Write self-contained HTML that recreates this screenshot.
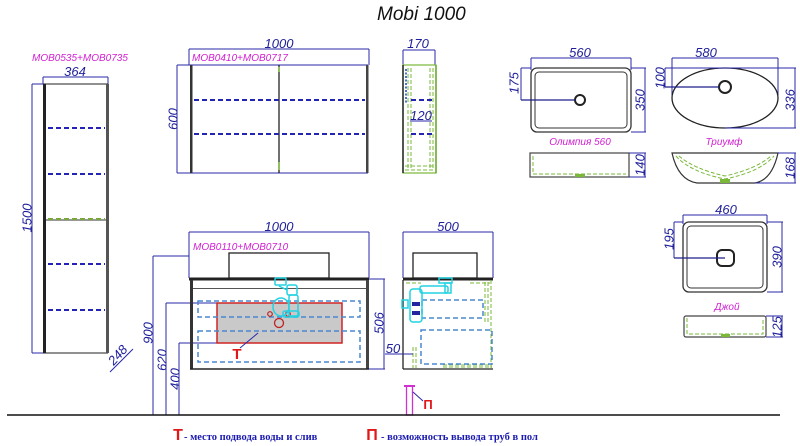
<!DOCTYPE html>
<html><head><meta charset="utf-8">
<style>
html,body{margin:0;padding:0;background:#fff;}
svg{display:block;}
text{font-family:"Liberation Sans","DejaVu Sans",sans-serif;}
.d{font-style:italic;font-size:13px;fill:#1e1e9a;}
.m{font-style:italic;font-size:10px;fill:#d21ed2;}
.dl{stroke:#2a2aa8;stroke-width:1;fill:none;}
.sh{stroke:#2424b4;stroke-width:2;stroke-dasharray:5 3;fill:none;}
.lb{stroke:#4a88d0;stroke-width:1.5;stroke-dasharray:5 3;fill:none;}
.gr{stroke:#7ab83a;stroke-width:1;stroke-dasharray:4 2;fill:none;}
.cy{stroke:#22d2e2;stroke-width:1.5;fill:none;}
.k{stroke:#222;stroke-width:1;fill:none;}
</style></head><body>
<svg width="800" height="446" viewBox="0 0 800 446" xmlns="http://www.w3.org/2000/svg">
<rect width="800" height="446" fill="#fff"/>

<!-- Title -->
<text x="377" y="20" style="font-style:italic;font-size:19px;fill:#111;">Mobi 1000</text>

<!-- ===== Tall cabinet ===== -->
<text x="32" y="61" class="m">MOB0535+MOB0735</text>
<text x="75" y="76" class="d" text-anchor="middle">364</text>
<line x1="43" y1="77" x2="108" y2="77" class="dl"/>
<line x1="43" y1="77" x2="43" y2="84" class="dl"/>
<line x1="108" y1="77" x2="108" y2="84" class="dl"/>
<line x1="32" y1="84" x2="32" y2="353" class="dl"/>
<line x1="32" y1="84" x2="43" y2="84" class="dl"/>
<line x1="32" y1="353" x2="43" y2="353" class="dl"/>
<text transform="translate(27,218) rotate(-90)" x="0" y="4.5" class="d" text-anchor="middle">1500</text>
<line x1="43" y1="84" x2="108" y2="84" class="k"/>
<line x1="43" y1="353" x2="108" y2="353" class="k"/>
<rect x="43" y="84" width="3" height="269" fill="#222"/>
<rect x="106" y="84" width="3" height="269" fill="#555"/>
<line x1="48" y1="128" x2="105" y2="128" class="sh"/>
<line x1="48" y1="174" x2="105" y2="174" class="sh"/>
<line x1="46" y1="220" x2="106" y2="220" stroke="#333" stroke-width="1"/>
<line x1="48" y1="219" x2="105" y2="219" stroke="#78a838" stroke-width="2" stroke-dasharray="5 3"/>
<line x1="48" y1="264" x2="105" y2="264" class="sh"/>
<line x1="48" y1="310" x2="105" y2="310" class="sh"/>
<text transform="translate(121,358) rotate(-48)" x="0" y="0" class="d" text-anchor="middle">248</text>
<line x1="110" y1="372" x2="133" y2="349" class="dl"/>

<!-- ===== Upper mirror cabinet ===== -->
<text x="279" y="48" class="d" text-anchor="middle">1000</text>
<line x1="189" y1="49" x2="369" y2="49" class="dl"/>
<line x1="189" y1="49" x2="189" y2="65" class="dl"/>
<line x1="369" y1="49" x2="369" y2="65" class="dl"/>
<text x="192" y="61" class="m">MOB0410+MOB0717</text>
<line x1="177" y1="65" x2="177" y2="173" class="dl"/>
<line x1="177" y1="65" x2="368" y2="65" class="dl"/>
<line x1="177" y1="173" x2="368" y2="173" class="dl"/>
<text transform="translate(173,119) rotate(-90)" x="0" y="4.5" class="d" text-anchor="middle">600</text>
<rect x="190" y="65" width="2.5" height="108" fill="#333"/>
<rect x="366" y="65" width="2.5" height="108" fill="#444"/>
<line x1="279" y1="65" x2="279" y2="173" stroke="#111" stroke-width="1.2"/>
<line x1="279" y1="67" x2="279" y2="72" stroke="#7ab83a" stroke-width="1.5"/>
<line x1="279" y1="162" x2="279" y2="170" stroke="#7ab83a" stroke-width="1.5"/>
<line x1="194" y1="100" x2="365" y2="100" class="sh"/>
<line x1="194" y1="134" x2="365" y2="134" class="sh"/>

<!-- upper side view -->
<text x="418" y="48" class="d" text-anchor="middle">170</text>
<line x1="403" y1="50" x2="435" y2="50" class="dl"/>
<line x1="403" y1="50" x2="403" y2="65" class="dl"/>
<line x1="435" y1="50" x2="435" y2="65" class="dl"/>
<rect x="403" y="65" width="33" height="108" fill="none" stroke="#7ab83a" stroke-width="1.2"/>
<line x1="403" y1="65" x2="403" y2="173" stroke="#222" stroke-width="1.5"/>
<line x1="436" y1="65" x2="436" y2="173" stroke="#6aa830" stroke-width="1.5"/>
<line x1="408" y1="68" x2="408" y2="170" class="gr"/>
<line x1="411" y1="68" x2="411" y2="170" class="gr"/>
<line x1="430" y1="68" x2="430" y2="170" class="gr"/>
<line x1="433" y1="68" x2="433" y2="170" class="gr"/>
<line x1="405" y1="166" x2="435" y2="166" class="gr"/>
<line x1="405" y1="170" x2="435" y2="170" class="gr"/>
<line x1="406" y1="69" x2="406" y2="103" stroke="#4a70d0" stroke-width="2" stroke-dasharray="2 1.5"/>
<line x1="411" y1="100" x2="434" y2="100" class="sh"/>
<line x1="411" y1="134" x2="434" y2="134" class="sh"/>
<text x="421" y="120" class="d" text-anchor="middle">120</text>
<line x1="410" y1="121" x2="432" y2="121" class="dl"/>

<!-- ===== Lower vanity front ===== -->
<text x="279" y="231" class="d" text-anchor="middle">1000</text>
<line x1="189" y1="232" x2="369" y2="232" class="dl"/>
<line x1="189" y1="232" x2="189" y2="278" class="dl"/>
<line x1="369" y1="232" x2="369" y2="278" class="dl"/>
<text x="193" y="250" class="m">MOB0110+MOB0710</text>
<!-- left dims -->
<line x1="153" y1="256" x2="153" y2="415" class="dl"/>
<line x1="153" y1="256" x2="189" y2="256" class="dl"/>
<line x1="166" y1="303" x2="166" y2="415" class="dl"/>
<line x1="166" y1="303" x2="217" y2="303" class="dl"/>
<line x1="179" y1="343" x2="179" y2="415" class="dl"/>
<line x1="179" y1="343" x2="217" y2="343" class="dl"/>
<text transform="translate(148,333) rotate(-90)" x="0" y="4.5" class="d" text-anchor="middle">900</text>
<text transform="translate(162,360) rotate(-90)" x="0" y="4.5" class="d" text-anchor="middle">620</text>
<text transform="translate(175,379) rotate(-90)" x="0" y="4.5" class="d" text-anchor="middle">400</text>
<!-- basin -->
<rect x="229" y="253" width="100" height="25" fill="#fff" stroke="#222" stroke-width="1.3"/>
<rect x="189" y="277.5" width="180" height="3" fill="#222"/>
<!-- body -->
<rect x="190" y="280" width="3" height="89" fill="#333"/>
<rect x="366" y="280" width="3" height="89" fill="#444"/>
<line x1="190" y1="369" x2="369" y2="369" stroke="#222" stroke-width="1.5"/>
<line x1="193" y1="288.5" x2="366" y2="288.5" stroke="#555" stroke-width="1"/>
<rect x="217" y="303" width="125" height="40" fill="#c9c9c9" stroke="#d02424" stroke-width="1.5"/>
<rect x="198" y="301" width="162" height="16" class="lb"/>
<rect x="198" y="331" width="162" height="31" class="lb"/>
<circle cx="270" cy="314" r="2.3" fill="none" stroke="#c02020" stroke-width="1.2"/>
<circle cx="288" cy="314" r="2.3" fill="none" stroke="#c02020" stroke-width="1.2"/>
<circle cx="279" cy="323" r="4.5" fill="none" stroke="#c02020" stroke-width="1.3"/>
<!-- siphon -->
<rect x="275" y="278" width="11" height="7" rx="1" class="cy"/>
<rect x="287" y="285" width="10" height="10" rx="2" class="cy"/>
<rect x="289" y="295" width="9" height="21" rx="2" class="cy"/>
<ellipse cx="281" cy="307" rx="8" ry="9" class="cy"/>
<line x1="279" y1="286" x2="287" y2="290" class="cy"/>
<rect x="283" y="311" width="16" height="6" rx="2" class="cy"/>
<!-- T marker -->
<line x1="240" y1="348" x2="258" y2="333" class="dl"/>
<text x="237" y="359" style="font-size:15px;font-weight:bold;fill:#e01818;" text-anchor="middle">Т</text>
<!-- 506 -->
<line x1="369" y1="279" x2="385" y2="279" class="dl"/>
<line x1="369" y1="369" x2="385" y2="369" class="dl"/>
<line x1="384" y1="279" x2="384" y2="369" class="dl"/>
<text transform="translate(379,323) rotate(-90)" x="0" y="4.5" class="d" text-anchor="middle">506</text>

<!-- ===== Lower vanity side ===== -->
<text x="448" y="231" class="d" text-anchor="middle">500</text>
<line x1="403" y1="232" x2="493" y2="232" class="dl"/>
<line x1="403" y1="232" x2="403" y2="278" class="dl"/>
<line x1="493" y1="232" x2="493" y2="278" class="dl"/>
<rect x="413" y="253" width="64" height="25" fill="#fff" stroke="#222" stroke-width="1.3"/>
<rect x="403" y="277.5" width="90" height="3" fill="#222"/>
<line x1="403" y1="280" x2="403" y2="369" stroke="#222" stroke-width="1.3"/>
<line x1="403" y1="369" x2="493" y2="369" stroke="#222" stroke-width="1.3"/>
<line x1="491" y1="280" x2="491" y2="369" class="gr"/>
<line x1="485" y1="282" x2="485" y2="322" class="gr"/>
<line x1="488" y1="282" x2="488" y2="322" class="gr"/>
<line x1="470" y1="283" x2="490" y2="283" class="gr"/>
<line x1="406" y1="283" x2="421" y2="283" class="gr"/>
<line x1="443" y1="365" x2="492" y2="365" class="gr"/>
<line x1="443" y1="367" x2="492" y2="367" class="gr"/>
<line x1="413" y1="347" x2="413" y2="368" class="gr"/>
<line x1="416" y1="347" x2="416" y2="368" class="gr"/>
<rect x="422" y="300" width="61" height="18" class="lb"/>
<rect x="421" y="330" width="71" height="34" class="lb"/>
<!-- pipes -->
<rect x="439" y="278" width="13" height="5" class="cy"/>
<rect x="420" y="286" width="28" height="7" rx="2" class="cy"/>
<rect x="445" y="283" width="6" height="10" class="cy"/>
<rect x="410" y="289" width="12" height="33" rx="3" class="cy"/>
<rect x="402" y="300" width="6" height="8" class="cy"/>
<rect x="412" y="302" width="8" height="4" fill="#2424a0"/>
<rect x="412" y="311" width="8" height="4" fill="#2424a0"/>
<line x1="385" y1="354" x2="413" y2="354" class="dl"/>
<text x="393" y="353" class="d" text-anchor="middle">50</text>
<!-- floor pipe -->
<rect x="406.5" y="386" width="6" height="29" fill="none" stroke="#d030d0" stroke-width="1.3"/>
<line x1="404" y1="386" x2="415" y2="386" stroke="#d030d0" stroke-width="2"/>
<line x1="413" y1="392" x2="423" y2="401" class="dl"/>
<text x="428" y="409" style="font-size:13px;font-weight:bold;fill:#e01818;" text-anchor="middle">П</text>

<!-- floor -->
<line x1="7" y1="415" x2="780" y2="415" stroke="#111" stroke-width="1.5"/>

<!-- ===== Olimpia 560 ===== -->
<text x="580" y="57" class="d" text-anchor="middle">560</text>
<line x1="531" y1="58" x2="631" y2="58" class="dl"/>
<line x1="531" y1="58" x2="531" y2="70" class="dl"/>
<line x1="631" y1="58" x2="631" y2="70" class="dl"/>
<rect x="531" y="68" width="100" height="64" rx="6" fill="none" stroke="#333" stroke-width="1.3"/>
<rect x="535" y="72" width="92" height="56" rx="4" fill="none" stroke="#333" stroke-width="1"/>
<circle cx="580" cy="100" r="5" fill="none" stroke="#222" stroke-width="2"/>
<line x1="521" y1="68" x2="531" y2="68" class="dl"/>
<line x1="521" y1="68" x2="521" y2="100" class="dl"/>
<line x1="521" y1="100" x2="575" y2="100" stroke="#1e1e8a" stroke-width="1.3"/>
<text transform="translate(514,83) rotate(-90)" x="0" y="4.5" class="d" text-anchor="middle">175</text>
<line x1="631" y1="68" x2="646" y2="68" class="dl"/>
<line x1="631" y1="132" x2="646" y2="132" class="dl"/>
<line x1="645" y1="68" x2="645" y2="132" class="dl"/>
<text transform="translate(640,100) rotate(-90)" x="0" y="4.5" class="d" text-anchor="middle">350</text>
<text x="580" y="145" class="m" text-anchor="middle">Олимпия 560</text>
<rect x="530" y="153" width="99" height="24" fill="none" stroke="#444" stroke-width="1.2"/>
<line x1="533" y1="156" x2="533" y2="174" class="gr"/>
<line x1="533" y1="174" x2="626" y2="174" class="gr"/>
<rect x="575" y="174" width="10" height="3" fill="#7ab83a"/>
<line x1="629" y1="153" x2="646" y2="153" class="dl"/>
<line x1="629" y1="177" x2="646" y2="177" class="dl"/>
<line x1="645" y1="153" x2="645" y2="177" class="dl"/>
<text transform="translate(640,165) rotate(-90)" x="0" y="4.5" class="d" text-anchor="middle">140</text>

<!-- ===== Triumph ===== -->
<text x="706" y="57" class="d" text-anchor="middle">580</text>
<line x1="672" y1="58" x2="778" y2="58" class="dl"/>
<line x1="672" y1="58" x2="672" y2="100" class="dl"/>
<line x1="778" y1="58" x2="778" y2="100" class="dl"/>
<ellipse cx="725" cy="98" rx="53" ry="30" fill="none" stroke="#222" stroke-width="1.3"/>
<circle cx="725" cy="87" r="6" fill="none" stroke="#222" stroke-width="2"/>
<line x1="665" y1="68" x2="725" y2="68" class="dl"/>
<line x1="665" y1="68" x2="665" y2="87" class="dl"/>
<line x1="665" y1="87" x2="719" y2="87" stroke="#1e1e8a" stroke-width="1.3"/>
<text transform="translate(660,78) rotate(-90)" x="0" y="4.5" class="d" text-anchor="middle">100</text>
<line x1="725" y1="68" x2="796" y2="68" class="dl"/>
<line x1="725" y1="128" x2="796" y2="128" class="dl"/>
<line x1="795" y1="68" x2="795" y2="128" class="dl"/>
<text transform="translate(790,100) rotate(-90)" x="0" y="4.5" class="d" text-anchor="middle">336</text>
<text x="724" y="145" class="m" text-anchor="middle">Триумф</text>
<path d="M672 153 L778 153 Q772 180 755 183 L697 183 Q678 180 672 153 Z" fill="none" stroke="#333" stroke-width="1.2"/>
<path d="M676 156 Q690 172 725 179 Q760 172 774 156" class="gr"/>
<path d="M679 156 Q694 169 725 176 Q756 169 771 156" class="gr"/>
<rect x="720" y="179" width="10" height="4" fill="#7ab83a"/>
<line x1="778" y1="153" x2="796" y2="153" class="dl"/>
<line x1="755" y1="183" x2="796" y2="183" class="dl"/>
<line x1="795" y1="153" x2="795" y2="183" class="dl"/>
<text transform="translate(790,168) rotate(-90)" x="0" y="4.5" class="d" text-anchor="middle">168</text>

<!-- ===== Joy ===== -->
<text x="726" y="214" class="d" text-anchor="middle">460</text>
<line x1="683" y1="215" x2="767" y2="215" class="dl"/>
<line x1="683" y1="215" x2="683" y2="224" class="dl"/>
<line x1="767" y1="215" x2="767" y2="224" class="dl"/>
<rect x="683" y="222" width="84" height="70" rx="6" fill="none" stroke="#333" stroke-width="1.3"/>
<rect x="687" y="226" width="76" height="62" rx="4" fill="none" stroke="#333" stroke-width="1"/>
<rect x="717" y="250" width="17" height="16" rx="5" fill="none" stroke="#222" stroke-width="2"/>
<line x1="674" y1="222" x2="683" y2="222" class="dl"/>
<line x1="674" y1="222" x2="674" y2="258" class="dl"/>
<line x1="674" y1="258" x2="725" y2="258" stroke="#1e1e8a" stroke-width="1.3"/>
<text transform="translate(669,239) rotate(-90)" x="0" y="4.5" class="d" text-anchor="middle">195</text>
<line x1="767" y1="222" x2="783" y2="222" class="dl"/>
<line x1="767" y1="292" x2="783" y2="292" class="dl"/>
<line x1="782" y1="222" x2="782" y2="292" class="dl"/>
<text transform="translate(777,257) rotate(-90)" x="0" y="4.5" class="d" text-anchor="middle">390</text>
<text x="727" y="310" class="m" text-anchor="middle">Джой</text>
<rect x="684" y="316" width="82" height="21" rx="2" fill="none" stroke="#444" stroke-width="1.2"/>
<path d="M687 318 L687 334 L763 334 L763 318" class="gr"/>
<rect x="721" y="334" width="9" height="3" fill="#7ab83a"/>
<line x1="766" y1="316" x2="783" y2="316" class="dl"/>
<line x1="766" y1="337" x2="783" y2="337" class="dl"/>
<line x1="782" y1="316" x2="782" y2="337" class="dl"/>
<text transform="translate(777,327) rotate(-90)" x="0" y="4.5" class="d" text-anchor="middle">125</text>

<!-- ===== Legend ===== -->
<text x="178" y="440" style="font-size:16px;font-weight:bold;fill:#e01818;" text-anchor="middle">Т</text>
<text x="184" y="440" style="font-family:'Liberation Serif',serif;font-size:10.5px;font-weight:bold;fill:#1a1ab0;">- место подвода воды и слив</text>
<text x="372" y="440" style="font-size:16px;font-weight:bold;fill:#e01818;" text-anchor="middle">П</text>
<text x="381" y="440" style="font-family:'Liberation Serif',serif;font-size:10.5px;font-weight:bold;fill:#1a1ab0;">- возможность вывода труб в пол</text>
</svg>
</body></html>
